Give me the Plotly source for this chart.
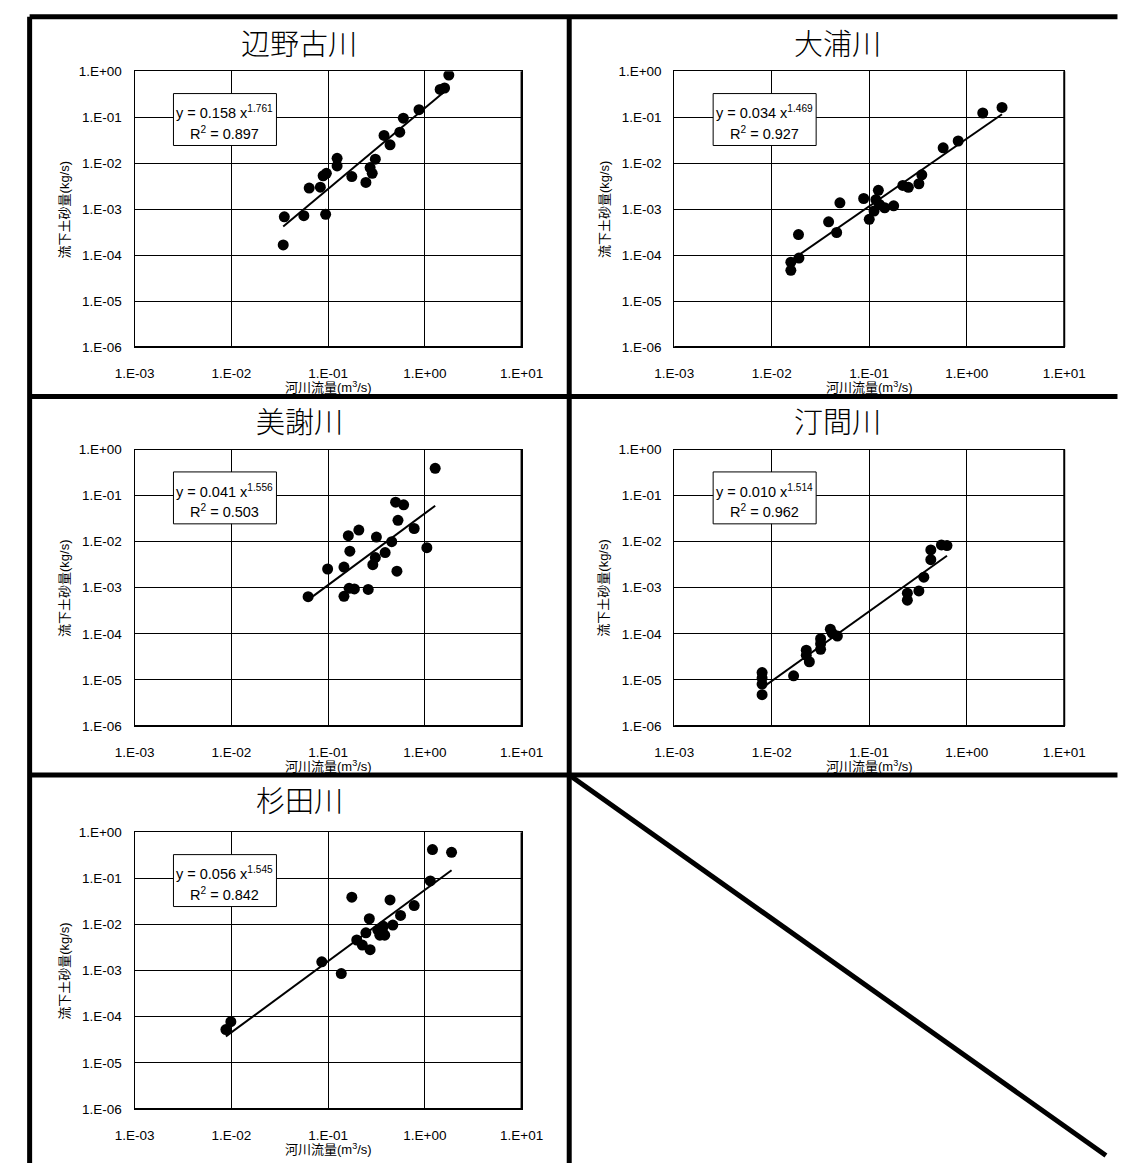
import plotly.graph_objects as go

W, H = 1126, 1163

# ---------------- data ----------------
rivers = ["辺野古川", "大浦川", "美謝川", "汀間川", "杉田川"]

henoko_q = [0.0353, 0.0344, 0.0562, 0.0638, 0.0832, 0.0889, 0.096, 0.0944, 0.124, 0.124,
            0.176, 0.246, 0.272, 0.286, 0.308, 0.379, 0.437, 0.551, 0.600, 0.871, 1.44, 1.60, 1.77]
henoko_s = [6.8e-4, 1.66e-4, 7.2e-4, 2.87e-3, 3.0e-3, 5.3e-3, 6.0e-3, 7.7e-4, 1.27e-2, 8.7e-3,
            5.1e-3, 3.8e-3, 8.0e-3, 6.0e-3, 1.22e-2, 4.0e-2, 2.5e-2, 4.7e-2, 9.5e-2, 0.145, 0.40, 0.43, 0.82]

oura_q = [0.0157, 0.0157, 0.019, 0.0188, 0.0383, 0.0463, 0.050, 0.0877, 0.100, 0.112, 0.117, 0.124,
          0.127, 0.144, 0.178, 0.221, 0.252, 0.323, 0.346, 0.573, 0.817, 1.46, 2.30]
oura_s = [7.0e-5, 4.66e-5, 8.6e-5, 2.8e-4, 5.3e-4, 3.1e-4, 1.37e-3, 1.7e-3, 6.0e-4, 9.1e-4, 1.6e-3, 2.56e-3,
          1.26e-3, 1.07e-3, 1.18e-3, 3.28e-3, 2.97e-3, 3.56e-3, 5.56e-3, 2.15e-2, 3.03e-2, 0.123, 0.163]

bisha_q = [0.0622, 0.099, 0.146, 0.146, 0.165, 0.187, 0.162, 0.168, 0.208, 0.26, 0.29,
           0.308, 0.316, 0.389, 0.455, 0.499, 0.604, 0.528, 0.515, 0.776, 1.05, 1.28]
bisha_s = [6.4e-4, 2.55e-3, 2.8e-3, 6.5e-4, 9.7e-4, 9.4e-4, 1.35e-2, 6.2e-3, 1.78e-2, 9.2e-4, 3.16e-3,
           4.5e-3, 1.26e-2, 5.8e-3, 1.0e-2, 7.2e-2, 6.3e-2, 2.9e-2, 2.28e-3, 1.93e-2, 7.4e-3, 0.39]

tema_q = [0.00796, 0.00796, 0.00796, 0.00796, 0.01675, 0.0226, 0.0226, 0.0243, 0.0317, 0.0317, 0.0317,
          0.0399, 0.0417, 0.0471, 0.246, 0.246, 0.323, 0.363, 0.428, 0.428, 0.55, 0.627]
tema_s = [1.44e-5, 1.09e-5, 8.1e-6, 4.77e-6, 1.22e-5, 4.4e-5, 3.4e-5, 2.47e-5, 7.8e-5, 6.1e-5, 4.6e-5,
          1.26e-4, 1.03e-4, 8.9e-5, 7.6e-4, 5.35e-4, 8.5e-4, 1.69e-3, 4.05e-3, 6.6e-3, 8.5e-3, 8.2e-3]

sugita_q = [0.00879, 0.00989, 0.0861, 0.137, 0.176, 0.198, 0.226, 0.246, 0.267, 0.272, 0.327,
            0.343, 0.373, 0.385, 0.365, 0.437, 0.467, 0.561, 0.776, 1.14, 1.20, 1.89]
sugita_s = [5.24e-5, 7.8e-5, 1.55e-3, 8.6e-4, 3.9e-2, 4.6e-3, 3.57e-3, 6.6e-3, 1.33e-2, 2.84e-3, 7.5e-3,
            5.85e-3, 9.1e-3, 5.85e-3, 6.9e-3, 3.4e-2, 9.7e-3, 1.57e-2, 2.56e-2, 8.8e-2, 0.42, 0.367]

coef_a = [0.158, 0.034, 0.041, 0.010, 0.056]
coef_b = [1.761, 1.469, 1.556, 1.514, 1.545]
r_squared = [0.897, 0.927, 0.503, 0.962, 0.842]

xtick_vals = [1e-3, 1e-2, 1e-1, 1e0, 1e1]
xtick_text = ["1.E-03", "1.E-02", "1.E-01", "1.E+00", "1.E+01"]
ytick_vals = [1e-6, 1e-5, 1e-4, 1e-3, 1e-2, 1e-1, 1e0]
ytick_text = ["1.E-06", "1.E-05", "1.E-04", "1.E-03", "1.E-02", "1.E-01", "1.E+00"]

x_title = "河川流量(m<sup>3</sup>/s)"
y_title = "流下土砂量(kg/s)"

series_q = [henoko_q, oura_q, bisha_q, tema_q, sugita_q]
series_s = [henoko_s, oura_s, bisha_s, tema_s, sugita_s]

# ---------------- layout geometry (pixels) ----------------
plot_boxes = [  # left, top, right, bottom
    (119, 65, 521, 344.5),
    (679.6, 65, 1084.7, 344.5),
    (119, 448.3, 521, 728.3),
    (679.6, 448.3, 1084.7, 728.3),
    (119, 836, 521, 1116.3),
]
title_pos = [(290, 35), (849, 35), (290, 418.5), (849, 418.5), (290, 802)]

def px(x):
    return x / W

def py(y):
    return 1 - y / H

FONT_NUM = "Liberation Sans, Noto Sans CJK JP, sans-serif"
FONT_JP = "Noto Sans CJK JP, sans-serif"

fig = go.Figure()
layout = dict(
    autosize=True, margin=dict(l=0, r=0, t=0, b=0, pad=0),
    paper_bgcolor="white", plot_bgcolor="white", showlegend=False,
)
annotations = []
shapes = []

for i in range(5):
    n = "" if i == 0 else str(i + 1)
    L, T, R, B = plot_boxes[i]
    q, s = series_q[i], series_s[i]
    fig.add_trace(go.Scatter(
        x=q, y=s, mode="markers", xaxis="x" + n, yaxis="y" + n,
        marker=dict(size=11, color="black", line=dict(width=0)), hoverinfo="skip"))
    qmin, qmax = min(q), max(q)
    fig.add_trace(go.Scatter(
        x=[qmin, qmax], y=[coef_a[i] * qmin ** coef_b[i], coef_a[i] * qmax ** coef_b[i]],
        mode="lines", xaxis="x" + n, yaxis="y" + n,
        line=dict(color="black", width=2), hoverinfo="skip"))
    ax_common = dict(showgrid=True, gridcolor="black", gridwidth=1, showline=True,
                     linecolor="black", linewidth=1, mirror=True, ticks="", zeroline=False,
                     tickfont=dict(family=FONT_NUM, size=13.5, color="black"))
    layout["xaxis" + n] = dict(ax_common, type="log", range=[-3, 1], domain=[px(L), px(R)],
                               anchor="y" + n, tickvals=xtick_vals, ticktext=xtick_text,
                               ticklabelstandoff=14)
    layout["yaxis" + n] = dict(ax_common, type="log", range=[-6, 0], domain=[py(B), py(T)],
                               anchor="x" + n, tickvals=ytick_vals, ticktext=ytick_text,
                               ticklabelstandoff=9)
    # thicker bottom/right frame
    shapes.append(dict(type="line", xref="x" + n + " domain", yref="y" + n + " domain",
                       x0=0, x1=1, y0=0, y1=0, line=dict(color="black", width=2)))
    shapes.append(dict(type="line", xref="x" + n + " domain", yref="y" + n + " domain",
                       x0=1, x1=1, y0=0, y1=1, line=dict(color="black", width=2)))
    # title
    tx, ty = title_pos[i]
    annotations.append(dict(text=rivers[i], x=px(tx), y=py(ty), xref="paper", yref="paper",
                            showarrow=False, xanchor="center", yanchor="middle",
                            font=dict(family=FONT_JP, size=29, color="black", weight=300)))
    # axis titles
    annotations.append(dict(text=x_title, x=px((L + R) / 2), y=py(B + 40.5), xref="paper",
                            yref="paper", showarrow=False, xanchor="center", yanchor="middle",
                            font=dict(family=FONT_NUM, size=13, color="black")))
    annotations.append(dict(text=y_title, x=px(L - 73), y=py((T + B) / 2), xref="paper",
                            yref="paper", showarrow=False, xanchor="center", yanchor="middle",
                            textangle=-90, font=dict(family=FONT_NUM, size=13, color="black")))
    # equation box
    bx0, by0 = L + 40.4, T + 22.7
    bx1, by1 = bx0 + 107, by0 + 52.6
    shapes.append(dict(type="rect", xref="paper", yref="paper", layer="above",
                       x0=px(bx0), x1=px(bx1), y0=py(by1), y1=py(by0),
                       fillcolor="white", line=dict(color="black", width=1)))
    eq = f"y = {coef_a[i]:.3f} x<sup>{coef_b[i]:.3f}</sup>"
    r2 = f"R<sup>2</sup> = {r_squared[i]:.3f}"
    annotations.append(dict(text=eq, x=px((bx0 + bx1) / 2), y=py(by0 + 19), xref="paper",
                            yref="paper", showarrow=False, xanchor="center", yanchor="middle",
                            font=dict(family=FONT_NUM, size=14.5, color="black")))
    annotations.append(dict(text=r2, x=px((bx0 + bx1) / 2), y=py(by0 + 40), xref="paper",
                            yref="paper", showarrow=False, xanchor="center", yanchor="middle",
                            font=dict(family=FONT_NUM, size=14.5, color="black")))

# table frame
BW = 5
frame = [
    (10, 10, 1140, 10),      # top
    (10, 10, 10, 1180),      # left
    (570.5, 10, 570.5, 1180),  # centre vertical
    (10, 394.5, 1140, 394.5),  # divider 1
    (10, 778, 1140, 778),      # divider 2
    (570.5, 778, 1128, 1163.5),  # diagonal in empty cell
]
for x0, y0, x1, y1 in frame:
    shapes.append(dict(type="line", xref="paper", yref="paper", layer="above",
                       x0=px(x0), y0=py(y0), x1=px(x1), y1=py(y1),
                       line=dict(color="black", width=BW)))

layout["annotations"] = annotations
layout["shapes"] = shapes
fig.update_layout(**layout)

post = (
    "document.documentElement.style.margin='0';document.documentElement.style.padding='0';"
    "document.documentElement.style.overflow='hidden';"
    "document.body.style.margin='0';document.body.style.padding='0';document.body.style.overflow='hidden';"
    "var gd=document.getElementById('{plot_id}');"
    "gd.style.position='fixed';gd.style.left='0px';gd.style.top='0px';"
    "gd.style.width='100vw';gd.style.height='100vh';"
    "Plotly.Plots.resize(gd);"
)
fig.write_html("out.html", config={"displayModeBar": False, "responsive": True},
               default_width="100vw", default_height="100vh", post_script=post)
